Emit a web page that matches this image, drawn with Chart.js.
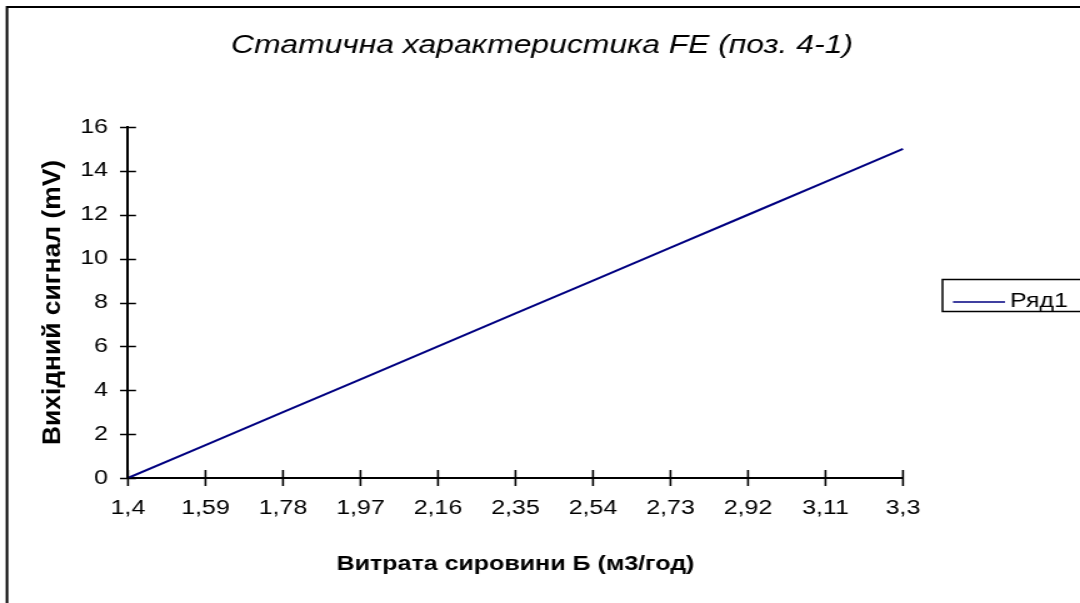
<!DOCTYPE html>
<html>
<head>
<meta charset="utf-8">
<script src="https://cdn.jsdelivr.net/npm/chart.js@4.4.1/dist/chart.umd.min.js"></script>
<style>
  html, body { margin: 0; padding: 0; background: #fff; overflow: hidden; }
  /* the drawing is laid out at 864 px and widened to the 1080 px window */
  #wrap { width: 864px; height: 603px; transform: scaleX(1.25); transform-origin: 0 0; }
</style>
</head>
<body>
<div id="wrap"><canvas id="c" width="864" height="603"></canvas></div>
<script>
// Flow of raw material B (m3/h) and the transmitter output (mV)
const categories = ['1,4', '1,59', '1,78', '1,97', '2,16', '2,35', '2,54', '2,73', '2,92', '3,11', '3,3'];
const outputSignal = [0, 1.5, 3, 4.5, 6, 7.5, 9, 10.5, 12, 13.5, 15];
const yTicks = [0, 2, 4, 6, 8, 10, 12, 14, 16];
const seriesName = 'Ряд1';
const chartTitle = 'Статична характеристика FE (поз. 4-1)';
const yTitle = 'Вихідний сигнал (mV)';

const FONT = '"Liberation Sans", Arial, sans-serif';

// Outer frame, titles, crossing tick marks and the boxed legend
const decorations = {
  id: 'decorations',
  afterDraw(chart) {
    const ctx = chart.ctx;
    const x = chart.scales.x, y = chart.scales.y;
    ctx.save();
    ctx.strokeStyle = '#000';
    ctx.lineWidth = 2;
    ctx.strokeRect(5.6, 7, 900, 700);

    ctx.fillStyle = '#000';
    ctx.font = 'italic 25.5px ' + FONT;
    ctx.textAlign = 'center';
    ctx.textBaseline = 'alphabetic';
    ctx.fillText(chartTitle, 433.6, 53);

    // vertical axis title, drawn a little elongated along its length
    ctx.save();
    ctx.translate(42, (y.top + y.bottom) / 2);
    ctx.rotate(-Math.PI / 2);
    ctx.scale(1.32, 1);
    ctx.font = 'bold 20px ' + FONT;
    ctx.textBaseline = 'middle';
    ctx.fillText(yTitle, 0, 0);
    ctx.restore();

    ctx.lineWidth = 1.6;
    ctx.beginPath();
    x.ticks.forEach((t, i) => {
      const px = x.getPixelForTick(i);
      ctx.moveTo(px, y.bottom - 8);
      ctx.lineTo(px, y.bottom + 8);
    });
    y.ticks.forEach((t, i) => {
      const py = Math.round(y.getPixelForTick(i)) + 0.5;
      ctx.moveTo(x.left - 6.4, py);
      ctx.lineTo(x.left + 6.4, py);
    });
    ctx.stroke();

    // legend
    ctx.lineWidth = 1.5;
    ctx.strokeRect(754, 279.5, 120, 32);
    const ds = chart.data.datasets[0];
    ctx.strokeStyle = ds.borderColor;
    ctx.lineWidth = 1.6;
    ctx.beginPath();
    ctx.moveTo(762.4, 302);
    ctx.lineTo(804, 302);
    ctx.stroke();
    ctx.font = '20px ' + FONT;
    ctx.textAlign = 'left';
    ctx.textBaseline = 'alphabetic';
    ctx.fillText(ds.label, 808, 307);
    ctx.restore();
  }
};

new Chart(document.getElementById('c'), {
  type: 'line',
  data: {
    labels: categories,
    datasets: [{
      label: seriesName,
      data: outputSignal,
      borderColor: '#000080',
      borderWidth: 2,
      pointRadius: 0,
      tension: 0,
      fill: false
    }]
  },
  options: {
    responsive: false,
    animation: false,
    layout: { padding: { left: 0, top: 127, right: 141.6, bottom: 0 } },
    plugins: {
      legend: { display: false },
      tooltip: { enabled: false },
      title: { display: false }
    },
    scales: {
      x: {
        type: 'category',
        offset: false,
        grid: { display: false, drawTicks: false },
        border: { display: true, color: '#000', width: 2 },
        ticks: {
          color: '#000',
          font: { family: FONT, size: 20 },
          padding: 18,
          maxRotation: 0,
          autoSkip: false
        },
        title: {
          display: true,
          text: 'Витрата сировини Б (м3/год)',
          color: '#000',
          font: { family: FONT, size: 20, weight: 'bold', lineHeight: 1.2 },
          padding: { top: 0, bottom: 27 }
        },
        afterFit(scale) { scale.height = 125; }
      },
      y: {
        min: 0,
        max: 16,
        afterBuildTicks(scale) { scale.ticks = yTicks.map(v => ({ value: v })); },
        grid: { display: false, drawTicks: false },
        border: { display: true, color: '#000', width: 2 },
        ticks: {
          color: '#000',
          font: { family: FONT, size: 20 },
          padding: 16
        },
        title: { display: false },
        afterFit(scale) { scale.width = 102.4; }
      }
    }
  },
  plugins: [decorations]
});
</script>
</body>
</html>
